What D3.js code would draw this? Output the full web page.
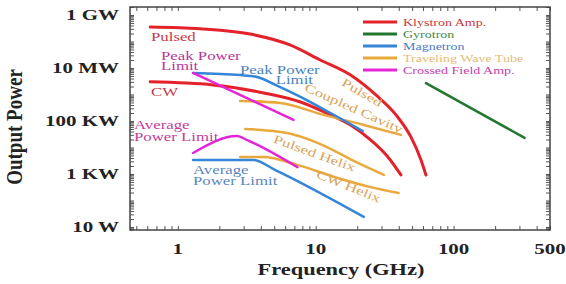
<!DOCTYPE html>
<html>
<head>
<meta charset="utf-8">
<script src="https://cdn.jsdelivr.net/npm/d3@7"></script>
<style>
  body { margin: 0; background: #fff; }
  text { font-family: "Liberation Serif", "Times New Roman", "DejaVu Serif", serif; }
</style>
</head>
<body>
<script>
// tick labels
const xTickValues = [1, 10, 100, 500];
const xTickLabels = ["1", "10", "100", "500"];
const yTickValues = [1e9, 1e7, 1e5, 1e3, 1e1];
const yTickLabels = ["1 GW", "10 MW", "100 KW", "1 KW", "10 W"];

// legend
const legendNames = ["Klystron Amp.", "Gyrotron", "Magnetron", "Traveling Wave Tube", "Crossed Field Amp."];
const legendColors = ["#e3222c", "#23772f", "#3586d8", "#eaa93c", "#e626d6"];
const legendTextColors = ["#c8383c", "#3d8a45", "#4a7cc6", "#e8bb78", "#c73fb0"];

// series: [GHz, W]
const klystronPulsed = [[0.63, 3.5e8], [1.45, 3.0e8], [3.35, 1.9e8], [6.5, 7.4e7], [10.8, 2.0e7], [17.9, 5.4e6], [27.3, 9.6e5], [38.2, 1.7e5], [49, 2.5e4], [58, 3.4e3], [63, 920]];
const klystronCW = [[0.63, 3.0e6], [1.8, 2.3e6], [4.2, 1.14e6], [7.75, 5.2e5], [12.8, 1.7e5], [17.9, 7.1e4], [25.1, 1.9e4], [33.4, 4.4e3], [41.5, 920]];
const gyrotron = [[63, 2.7e6], [327, 2.3e4]];
const magnetronPeak = [[1.29, 6.5e6], [2.83, 5.4e6], [3.76, 4.6e6], [5.1, 2.3e6], [7.75, 8.1e5], [12.8, 2.0e5], [21.9, 4.2e4]];
const magnetronAvg = [[1.29, 3.4e3], [3.52, 3.4e3], [5.1, 1.4e3], [22.3, 24]];
const crossedPeak = [[1.29, 6.5e6], [6.9, 1.1e5]];
const crossedAvg = [[1.29, 6.2e3], [2.69, 2.7e4], [3.18, 1.9e4], [7.37, 1.8e3]];
const twtCoupledCavity = [[2.83, 5.7e5], [5.5, 4.8e5], [11.4, 1.7e5], [22.3, 7.1e4], [41.5, 3.0e4]];
const twtPulsedHelix = [[3.08, 5.0e4], [6.2, 3.5e4], [10.3, 1.5e4], [20.2, 2.6e3], [31.2, 920]];
const twtCWHelix = [[2.83, 4.4e3], [4.17, 4.4e3], [7.37, 2.2e3], [14.4, 710], [25.1, 320], [40, 190]];

function main() {
  const svg = d3.select("body").append("svg").attr("width", 566).attr("height", 284);
  const left = 130, right = 550, top = 7, bottom = 230;
  const sx = 1.4; // the original figure is stretched sideways

  const x = d3.scaleLog().domain([0.45, 500]).range([left, right]);
  const y = d3.scaleLog().domain([7.7, 2e9]).range([bottom, top]);

  // minor tick positions for a log scale
  function logTicks(lo, hi) {
    const out = [];
    for (let d = 0.1; d <= 1e9; d *= 10)
      for (let k = 1; k <= 9; k++) {
        const v = +(d * k).toPrecision(3);
        if (v >= lo && v <= hi) out.push(v);
      }
    return out;
  }
  const xt = logTicks(0.45, 500);
  const yt = logTicks(7.7, 2e9);

  function styleAxis(g) {
    g.select(".domain").remove();
    g.selectAll("line").attr("stroke", "#555").attr("stroke-width", 1);
  }
  svg.append("g").attr("transform", `translate(0,${bottom})`)
    .call(d3.axisTop(x).tickValues(xt).tickSize(4).tickFormat("")).call(styleAxis);
  svg.append("g").attr("transform", `translate(0,${top})`)
    .call(d3.axisBottom(x).tickValues(xt).tickSize(4).tickFormat("")).call(styleAxis);
  svg.append("g").attr("transform", `translate(${left},0)`)
    .call(d3.axisRight(y).tickValues(yt).tickSize(4).tickFormat("")).call(styleAxis);
  svg.append("g").attr("transform", `translate(${right},0)`)
    .call(d3.axisLeft(y).tickValues(yt).tickSize(4).tickFormat("")).call(styleAxis);

  svg.append("rect").attr("x", left).attr("y", top)
    .attr("width", right - left).attr("height", bottom - top)
    .attr("fill", "none").attr("stroke", "#444").attr("stroke-width", 1.5);

  // stretched text helper
  function label(px, py, str, size, color, anchor, rot, weight) {
    return svg.append("text")
      .attr("transform", `translate(${px},${py}) rotate(${rot || 0}) scale(${sx},1)`)
      .attr("text-anchor", anchor || "start")
      .attr("font-size", size).attr("fill", color)
      .attr("font-weight", weight || "normal")
      .text(str);
  }

  // tick labels
  xTickValues.forEach((v, i) => label(x(v), 254, xTickLabels[i], 15, "#222", "middle", 0, "bold"));
  yTickValues.forEach((v, i) => label(119, y(v) + 5, yTickLabels[i], 15, "#222", "end", 0, "bold"));

  // axis titles
  label(341, 275, "Frequency (GHz)", 16, "#222", "middle", 0, "bold");
  svg.append("text")
    .attr("transform", "translate(22,127) rotate(-90) scale(1.12,1.3)")
    .attr("text-anchor", "middle").attr("font-size", 17).attr("font-weight", "bold")
    .attr("fill", "#222").text("Output Power");

  // curves
  const line = d3.line().x(d => x(d[0])).y(d => y(d[1])).curve(d3.curveMonotoneX);
  const series = [
    [klystronPulsed, 0, 3], [klystronCW, 0, 3], [gyrotron, 1, 2.5],
    [twtCoupledCavity, 3, 2.5], [twtPulsedHelix, 3, 2.5], [twtCWHelix, 3, 2.5],
    [magnetronPeak, 2, 2.5], [magnetronAvg, 2, 2.5],
    [crossedPeak, 4, 2.5], [crossedAvg, 4, 2.5]
  ];
  svg.append("g").selectAll("path").data(series).join("path")
    .attr("d", d => line(d[0]))
    .attr("fill", "none")
    .attr("stroke", d => legendColors[d[1]])
    .attr("stroke-width", d => d[2])
    .attr("stroke-linecap", "round");

  // annotations
  label(151, 41, "Pulsed", 12, "#c23a48");
  label(151, 96, "CW", 12, "#c23a48");
  label(161, 60, "Peak Power", 12, "#b8379e");
  label(161, 70, "Limit", 12, "#b8379e");
  label(240, 74, "Peak Power", 12, "#4a83c2");
  label(313, 84, "Limit", 12, "#4a83c2", "end");
  label(134, 129, "Average", 12, "#c2409e");
  label(134, 141, "Power Limit", 12, "#c2409e");
  label(193, 174, "Average", 12, "#5a86c0");
  label(193, 185, "Power Limit", 12, "#5a86c0");
  label(360, 96, "Pulsed", 12, "#d9a458", "middle", 30);
  label(352, 112, "Coupled Cavity", 12, "#d9a458", "middle", 24);
  label(313, 157, "Pulsed Helix", 12, "#d9a458", "middle", 20);
  label(347, 190, "CW Helix", 12, "#d9a458", "middle", 22);

  // legend
  const lg = svg.append("g").selectAll("g").data(legendNames).join("g")
    .attr("transform", (d, i) => `translate(363,${22 + i * 12})`);
  lg.append("line").attr("x1", 0).attr("x2", 34)
    .attr("stroke", (d, i) => legendColors[i]).attr("stroke-width", 3);
  lg.append("text")
    .attr("transform", "translate(40,3.5) scale(1.4,1)")
    .attr("font-size", 10).attr("fill", (d, i) => legendTextColors[i])
    .text(d => d);
}
main();
</script>
</body>
</html>
